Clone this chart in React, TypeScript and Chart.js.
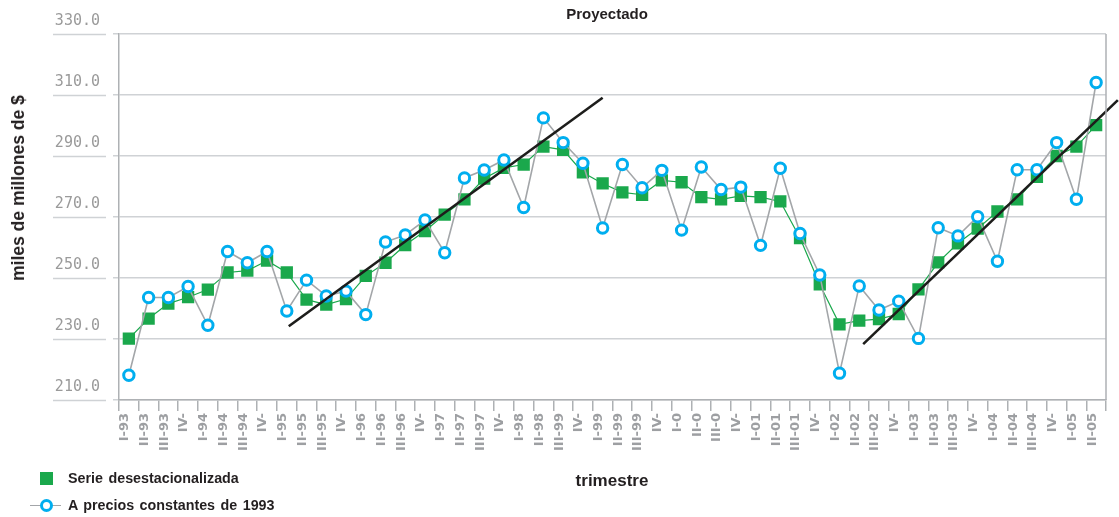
import React, { useEffect, useRef } from 'react';
import { Chart, registerables } from 'chart.js';

Chart.register(...registerables);

const quarterLabels = [
  'I-93', 'II-93', 'III-93', 'IV-',
  'I-94', 'II-94', 'III-94', 'IV-',
  'I-95', 'II-95', 'III-95', 'IV-',
  'I-96', 'II-96', 'III-96', 'IV-',
  'I-97', 'II-97', 'III-97', 'IV-',
  'I-98', 'II-98', 'III-99', 'IV-',
  'I-99', 'II-99', 'III-99', 'IV-',
  'I-0', 'II-0', 'III-0', 'IV-',
  'I-01', 'II-01', 'III-01', 'IV-',
  'I-02', 'II-02', 'III-02', 'IV-',
  'I-03', 'II-03', 'III-03', 'IV-',
  'I-04', 'II-04', 'III-04', 'IV-',
  'I-05', 'II-05',
];

const seasonallyAdjusted = [
  230.1, 236.7, 241.6, 243.7, 246.2, 251.8, 252.4, 255.7, 251.8, 242.9,
  241.3, 243.1, 250.7, 255.0, 260.8, 265.4, 270.8, 275.8, 282.6, 286.1,
  287.2, 293.1, 292.0, 284.6, 281.0, 278.1, 277.3, 282.0, 281.4, 276.5,
  275.8, 276.9, 276.5, 275.1, 263.1, 247.9, 234.8, 236.0, 236.5, 238.2,
  246.3, 255.1, 261.4, 266.2, 271.8, 275.8, 283.2, 290.0, 293.1, 300.1,
];

const constantPrices1993 = [
  218.1, 243.6, 243.6, 247.2, 234.5, 258.7, 255.0, 258.7, 239.2, 249.3,
  244.1, 245.7, 238.0, 261.8, 264.1, 269.0, 258.3, 282.8, 285.4, 288.7,
  273.1, 302.5, 294.4, 287.6, 266.4, 287.2, 279.6, 285.3, 265.7, 286.4,
  279.0, 279.8, 260.7, 286.0, 264.6, 251.0, 218.8, 247.4, 239.5, 242.4,
  230.2, 266.5, 263.8, 270.1, 255.5, 285.5, 285.5, 294.4, 275.8, 314.1,
];

// trend lines (x in quarter-index units, y in value units)
const trendRiseX = [8.1, 24.0];
const trendRiseY = [234.2, 309.1];
const trendRecoveryX = [37.2, 50.1];
const trendRecoveryY = [228.3, 308.3];

const yMin = 210;
const yMax = 330;
const yStep = 20;

const GREEN = '#1aa84c';
const BLUE = '#00aeef';
const GRAY_LINE = '#a3a6a9';
const GRID = '#cfd2d5';
const AXIS = '#aeb1b4';
const TEXT = '#231f20';

const decorPlugin = {
  id: 'decor',
  afterDraw(chart: any) {
    const { ctx, chartArea, scales } = chart;
    const y = scales.y;
    ctx.save();
    ctx.strokeStyle = GRID;
    ctx.lineWidth = 1.5;
    const right = y.right - 13;
    const left = right - 53;
    y.ticks.forEach((t: any) => {
      const py = Math.round(y.getPixelForValue(t.value)) + 0.5;
      ctx.beginPath();
      ctx.moveTo(left, py);
      ctx.lineTo(right, py);
      ctx.stroke();
    });
    ctx.strokeStyle = AXIS;
    ctx.beginPath();
    ctx.moveTo(chartArea.right, chartArea.top);
    ctx.lineTo(chartArea.right, chartArea.bottom);
    ctx.stroke();
    ctx.restore();
  },
};

function toPoints(xs: number[], ys: number[]) {
  return xs.map((x, i) => ({ x, y: ys[i] }));
}

export default function App() {
  const canvasRef = useRef<HTMLCanvasElement | null>(null);

  useEffect(() => {
    if (!canvasRef.current) return;
    const chart = new Chart(canvasRef.current, {
      type: 'line',
      data: {
        labels: quarterLabels,
        datasets: [
          {
            label: 'trend1',
            data: toPoints(trendRiseX, trendRiseY) as any,
            xAxisID: 'x2',
            borderColor: '#1d1d1b',
            borderWidth: 2.6,
            pointRadius: 0,
            order: 0,
            clip: false as any,
          },
          {
            label: 'trend2',
            data: toPoints(trendRecoveryX, trendRecoveryY) as any,
            xAxisID: 'x2',
            borderColor: '#1d1d1b',
            borderWidth: 2.6,
            pointRadius: 0,
            order: 0,
            clip: false as any,
          },
          {
            label: 'A precios constantes de 1993',
            data: constantPrices1993,
            xAxisID: 'x',
            borderColor: GRAY_LINE,
            borderWidth: 1.6,
            pointStyle: 'circle',
            pointRadius: 5.2,
            pointBorderWidth: 3,
            pointBorderColor: BLUE,
            pointBackgroundColor: '#ffffff',
            order: 1,
          },
          {
            label: 'Serie desestacionalizada',
            data: seasonallyAdjusted,
            xAxisID: 'x',
            borderColor: GREEN,
            borderWidth: 1.2,
            pointStyle: 'rect',
            pointRadius: 8.7,
            pointBorderWidth: 0,
            pointBackgroundColor: GREEN,
            pointBorderColor: GREEN,
            order: 2,
          },
        ],
      },
      options: {
        responsive: false,
        animation: false,
        layout: { padding: { top: 34, right: 13, bottom: 0, left: 0 } },
        plugins: {
          legend: { display: false },
          title: { display: false },
          tooltip: { enabled: false },
        },
        scales: {
          x: {
            type: 'category',
            offset: true,
            afterFit: (s: any) => { s.height = 117; },
            grid: {
              offset: true,
              drawOnChartArea: false,
              drawTicks: true,
              tickLength: 11,
              color: AXIS,
              lineWidth: 1.5,
            },
            border: { display: true, color: AXIS, width: 1.5 },
            ticks: {
              autoSkip: false,
              maxRotation: 90,
              minRotation: 90,
              padding: 2,
              labelOffset: -4,
              color: '#9d9fa2',
              font: { family: 'DejaVu Sans', size: 13, weight: 'bold' },
            },
          },
          x2: {
            type: 'linear',
            display: false,
            min: -0.5,
            max: quarterLabels.length - 0.5,
          },
          y: {
            min: yMin,
            max: yMax,
            afterFit: (s: any) => { s.width = 119; },
            grid: {
              color: GRID,
              lineWidth: 1.5,
              drawTicks: true,
              tickLength: 6,
            },
            border: { display: true, color: AXIS, width: 1.5 },
            ticks: {
              stepSize: yStep,
              padding: 13,
              labelOffset: -13,
              color: '#9a9a9a',
              font: { family: 'DejaVu Sans Mono', size: 15 },
              callback: (v: any) => Number(v).toFixed(1),
            },
          },
        },
      },
      plugins: [decorPlugin],
    });
    return () => chart.destroy();
  }, []);

  const textBase: React.CSSProperties = {
    position: 'absolute',
    fontFamily: '"Liberation Sans", Arial, sans-serif',
    fontWeight: 'bold',
    color: TEXT,
    whiteSpace: 'nowrap',
  };

  return (
    <div style={{ position: 'fixed', left: 0, top: 0, width: 1119, height: 517, background: '#fff' }}>
      <canvas ref={canvasRef} width={1119} height={517} style={{ position: 'absolute', left: 0, top: 0 }} />
      <div style={{ ...textBase, left: 607, top: 5, fontSize: 15, lineHeight: '18px', transform: 'translateX(-50%)' }}>
        Proyectado
      </div>
      <div style={{ ...textBase, left: 612, top: 471, fontSize: 17, lineHeight: '20px', transform: 'translateX(-50%)' }}>
        trimestre
      </div>
      <div
        style={{
          ...textBase,
          left: 18,
          top: 188,
          fontSize: 17.5,
          lineHeight: '20px',
          transform: 'translate(-50%, -50%) rotate(-90deg)',
        }}
      >
        miles de millones de $
      </div>
      <div style={{ position: 'absolute', left: 40, top: 472, width: 13, height: 13, background: GREEN }} />
      <div style={{ ...textBase, left: 68, top: 469, fontSize: 14.3, lineHeight: '18px', wordSpacing: 1.5 }}>
        Serie desestacionalizada
      </div>
      <div style={{ position: 'absolute', left: 30, top: 505, width: 31, height: 1, background: GRAY_LINE }} />
      <div
        style={{
          position: 'absolute',
          left: 40,
          top: 499,
          width: 7,
          height: 7,
          borderRadius: '50%',
          border: `3px solid ${BLUE}`,
          background: '#fff',
        }}
      />
      <div style={{ ...textBase, left: 68, top: 496, fontSize: 14.3, lineHeight: '18px', wordSpacing: 1.5 }}>
        A precios constantes de 1993
      </div>
    </div>
  );
}
